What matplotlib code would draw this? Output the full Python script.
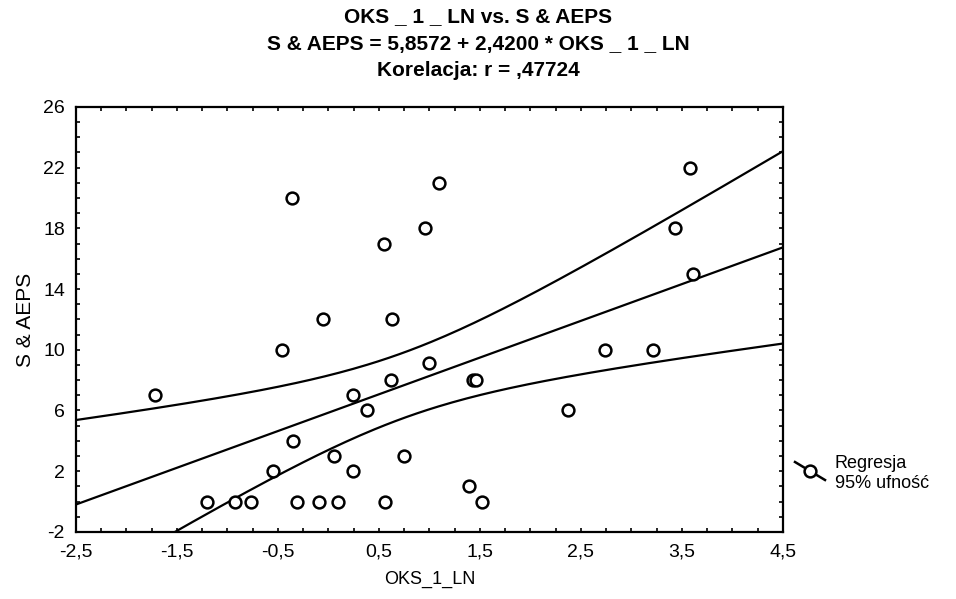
import numpy as np
import matplotlib
matplotlib.use("Agg")
import matplotlib.pyplot as plt
from matplotlib.ticker import MultipleLocator, FuncFormatter
from matplotlib.lines import Line2D

plt.rcParams['font.family'] = ['Liberation Sans', 'DejaVu Sans']

# data
oks_1_ln = [-1.72, -1.20, -0.93, -0.77, -0.55, -0.46, -0.36, -0.35, -0.31,
            -0.05, -0.09, 0.05, 0.09, 0.24, 0.24, 0.38, 0.55, 0.56, 0.62,
            0.63, 0.75, 0.96, 1.00, 1.09, 1.39, 1.43, 1.46, 1.52, 2.37,
            2.74, 3.21, 3.43, 3.58, 3.61]
s_aeps = [7, 0, 0, 0, 2, 10, 20, 4, 0,
          12, 0, 3, 0, 7, 2, 6, 17, 0, 8,
          12, 3, 18, 9.1, 21, 1, 8, 8, 0, 6,
          10, 10, 18, 22, 15]
x_ticks = [-2.5, -1.5, -0.5, 0.5, 1.5, 2.5, 3.5, 4.5]
y_ticks = [-2, 2, 6, 10, 14, 18, 22, 26]

intercept = 5.8572
slope = 2.4200
t_crit = 2.037  # t(0.975, df=32)

x = np.array(oks_1_ln)
y = np.array(s_aeps)
n = len(x)

# 95% band around the regression line
resid = y - (intercept + slope * x)
s = np.sqrt(np.sum(resid ** 2) / (n - 2))
xbar = x.mean()
sxx = np.sum((x - xbar) ** 2)
xs = np.linspace(-2.5, 4.5, 200)
fit = intercept + slope * xs
half = t_crit * s * np.sqrt(1.0 / n + (xs - xbar) ** 2 / sxx)

fig = plt.figure(figsize=(9.56, 5.99), dpi=100)
ax = fig.add_axes([0.0795, 0.112, 0.7395, 0.7095])

ax.plot(xs, fit, color='black', lw=1.6)
ax.plot(xs, fit + half, color='black', lw=1.6)
ax.plot(xs, fit - half, color='black', lw=1.6)
ax.plot(x, y, 'o', mfc='white', mec='black', ms=8.5, mew=1.8, zorder=5)

ax.set_xlim(-2.5, 4.5)
ax.set_ylim(-2, 26)
ax.set_xticks(x_ticks)
ax.set_yticks(y_ticks)
ax.xaxis.set_minor_locator(MultipleLocator(0.25))
ax.yaxis.set_minor_locator(MultipleLocator(1))
ax.xaxis.set_major_formatter(FuncFormatter(lambda v, p: ('%.1f' % v).replace('.', ',')))
ax.yaxis.set_major_formatter(FuncFormatter(lambda v, p: '%d' % round(v)))
ax.tick_params(which='both', direction='in', top=True, right=True,
               length=3, width=1.2, labelsize=14, pad=8)
for sp in ax.spines.values():
    sp.set_linewidth(1.6)

ax.set_xlabel('OKS_1_LN', fontsize=13, labelpad=8)
ax.set_ylabel('S & AEPS', fontsize=15, labelpad=6)

fig.text(0.5, 0.972, 'OKS _ 1 _ LN vs. S & AEPS', ha='center', va='center',
         fontsize=15, fontweight='bold')
fig.text(0.5, 0.926, 'S & AEPS = 5,8572 + 2,4200 * OKS _ 1 _ LN', ha='center',
         va='center', fontsize=15, fontweight='bold')
fig.text(0.5, 0.882, 'Korelacja: r = ,47724', ha='center', va='center',
         fontsize=15, fontweight='bold')

# legend entry
fig.add_artist(Line2D([795 / 956, 825 / 956], [1 - 462 / 599, 1 - 480 / 599],
                      color='black', lw=1.8))
fig.add_artist(Line2D([810 / 956], [1 - 471 / 599], marker='o', mfc='white',
                      mec='black', ms=8.5, mew=1.8))
fig.text(835 / 956, 1 - 463 / 599, 'Regresja', fontsize=13, va='center')
fig.text(835 / 956, 1 - 483 / 599, '95% ufność', fontsize=13, va='center')

fig.savefig('out.png', dpi=100)
